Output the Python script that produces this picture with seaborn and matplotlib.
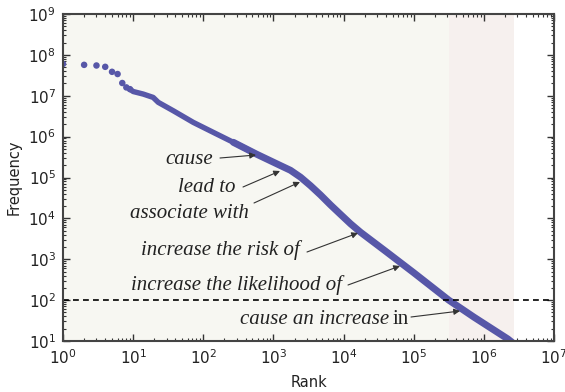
import matplotlib
matplotlib.use("Agg")
import matplotlib.pyplot as plt
import seaborn as sns
import pandas as pd

sns.set_style("ticks")
plt.rcParams['font.family'] = ['DejaVu Sans']

# ---- data ----
head_rank = [1, 2, 3, 4, 5, 6, 7, 8, 9]
head_freq = [6.0e7, 5.7e7, 5.5e7, 5.1e7, 3.85e7, 3.4e7, 2.05e7, 1.6e7, 1.45e7]

body_rank = [9, 10, 13.9, 19.3, 22.8, 37.3, 72, 139, 268, 572, 1259, 1750,
             2430, 3380, 4690, 6520, 9060, 1.26e4, 1.75e4, 3.98e4, 1.0e5,
             3.16e5, 7.2e5, 2.2e6, 2.69e6]
body_freq = [1.45e7, 1.27e7, 1.10e7, 9.1e6, 6.9e6, 4.3e6, 2.23e6, 1.27e6,
             7.26e5, 3.74e5, 1.96e5, 1.5e5, 1.02e5, 6.3e4, 3.74e4, 2.13e4,
             1.25e4, 7.35e3, 4.56e3, 1.57e3, 469, 100, 38.5, 11.2, 8.5]

cutoff_freq = 100
band_cream = (1, 3.19e5)
band_pink = (3.19e5, 2.71e6)

labels = ["cause", "lead to", "associate with", "increase the risk of",
          "increase the likelihood of", "cause an increase"]
label_tail = "in"

head = pd.DataFrame({"rank": head_rank, "freq": head_freq})
body = pd.DataFrame({"rank": body_rank, "freq": body_freq})
body_top = body[body["rank"] <= 600]
body_low = body[body["rank"] >= 268]

fig = plt.figure(figsize=(5.65, 3.92), dpi=100)
ax = fig.add_axes([63/565, 1-341/392, (554-63)/565, (341-14)/392])
ax.set_facecolor("white")
ax.set_xscale("log")
ax.set_yscale("log")
ax.set_xlim(1, 1e7)
ax.set_ylim(10, 1e9)

ax.axvspan(*band_cream, color="#f7f7f2", zorder=0, lw=0)
ax.axvspan(*band_pink, color="#f6f0ee", zorder=0, lw=0)

col = "#5757a8"
sns.lineplot(data=body_top, x="rank", y="freq", ax=ax, color=col, lw=3.9,
             sort=False, estimator=None, solid_capstyle="round",
             solid_joinstyle="round", zorder=3)
sns.lineplot(data=body_low, x="rank", y="freq", ax=ax, color=col, lw=5.0,
             sort=False, estimator=None, solid_capstyle="round",
             solid_joinstyle="round", zorder=3)
sns.scatterplot(data=head, x="rank", y="freq", ax=ax, color=col, s=22,
                edgecolor="none", zorder=3)

ax.axhline(cutoff_freq, color="black", ls=(0, (3.5, 2.5)), lw=1.2, zorder=4)

serif = dict(family="Liberation Serif", style="italic", fontsize=15,
             color="#222222")
arrow = dict(arrowstyle="-|>", color="#333333", lw=0.8,
             mutation_scale=9, shrinkA=0, shrinkB=0)

def px(x, y):
    # pixel position in the 565x392 canvas -> figure fraction
    return (x / 565, 1 - y / 392)

# (text right-end x, text center y, arrow start, arrow end) in pixels
specs = [
    (213, 160, (220, 158), (256, 155)),
    (236, 188, (243, 187), (280, 171)),
    (249, 214, (254, 203), (300, 182)),
    (300, 250, (307, 252), (358, 233)),
    (342, 285, (348, 285), (400, 266)),
]
for lab, (xr, yc, a0, a1) in zip(labels[:5], specs):
    fig.text(*px(xr, yc), lab, ha="right", va="center", **serif)
    ax.annotate("", xy=px(*a1), xycoords="figure fraction",
                xytext=px(*a0), textcoords="figure fraction",
                arrowprops=arrow, zorder=5)

fig.text(*px(389, 320), labels[5], ha="right", va="center", **serif)
fig.text(*px(393, 320), label_tail, ha="left", va="center",
         family="Liberation Serif", fontsize=15, color="#222222")
ax.annotate("", xy=px(460, 311), xycoords="figure fraction",
            xytext=px(411, 317), textcoords="figure fraction",
            arrowprops=arrow, zorder=5)

ax.set_xlabel("Rank", fontsize=10.5, color="#222222", labelpad=6)
ax.set_ylabel("Frequency", fontsize=10.5, color="#222222", labelpad=5)
ax.tick_params(which="both", direction="in", top=True, right=True,
               colors="#333333", labelcolor="#222222", labelsize=11)
ax.tick_params(which="major", length=5, width=1, pad=5)
ax.tick_params(which="minor", length=2.5, width=0.8)
ax.yaxis.set_major_locator(matplotlib.ticker.LogLocator(base=10, numticks=20))
ax.yaxis.set_minor_locator(matplotlib.ticker.LogLocator(base=10, subs=range(2, 10), numticks=20))
ax.xaxis.set_major_locator(matplotlib.ticker.LogLocator(base=10, numticks=20))
ax.xaxis.set_minor_locator(matplotlib.ticker.LogLocator(base=10, subs=range(2, 10), numticks=20))
for s in ax.spines.values():
    s.set_color("#444444")
    s.set_linewidth(1.5)
    s.set_zorder(6)

fig.savefig("out.png", dpi=100)
